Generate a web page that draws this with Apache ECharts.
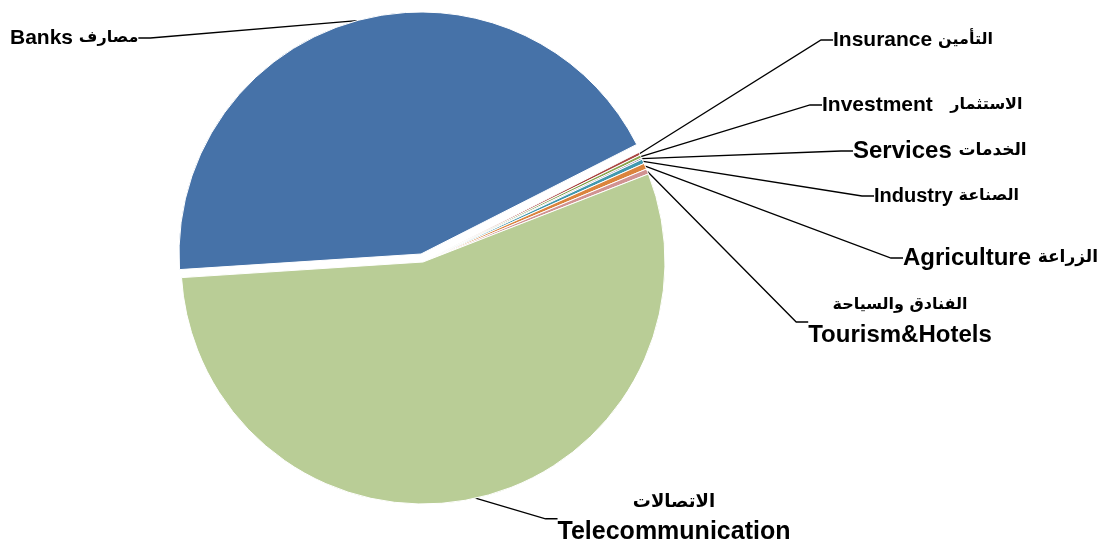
<!DOCTYPE html>
<html>
<head>
<meta charset="utf-8">
<script src="https://cdn.jsdelivr.net/npm/echarts@6/dist/echarts.min.js"></script>
<style>
  html, body { margin: 0; padding: 0; background: #fff; }
  #chart { width: 1108px; height: 545px; }
</style>
</head>
<body>
<div id="chart"></div>
<script>
// sectors, clockwise starting from Banks
const sectors = ['Banks', 'Insurance', 'Investment', 'Services', 'Industry', 'Agriculture', 'Tourism&Hotels', 'Telecommunication'];
const arabicNames = ['مصارف', 'التأمين', 'الاستثمار', 'الخدمات', 'الصناعة', 'الزراعة', 'الفنادق والسياحة', 'الاتصالات'];
const shares = [43.55, 0.2, 0.2, 0.1, 0.3, 0.4, 0.35, 54.9];

const colors = ['#4672a8', '#aa4643', '#89a54e', '#71588f', '#4198af', '#db843d', '#d19392', '#b9cd96'];

// where each label sits (left edge / centre of the text, vertical middle)
const labelPos = [
  { x: 10, y: 38, align: 'left' },
  { x: 833, y: 40, align: 'left' },
  { x: 822, y: 105, align: 'left' },
  { x: 853, y: 151, align: 'left' },
  { x: 874, y: 196, align: 'left' },
  { x: 903, y: 258, align: 'left' },
  { x: 900, y: 320, align: 'center' },
  { x: 674, y: 517, align: 'center' },
];
const enSize = [21, 21, 21, 24, 20, 24, 24, 25];
const arSize = [16, 16, 16, 17, 16, 17, 16, 18];

const chart = echarts.init(document.getElementById('chart'));

function labelFor(i) {
  const rich = {
    en: { fontSize: enSize[i], fontWeight: 'bold', fontFamily: 'Liberation Sans, Arial, sans-serif', color: '#000' },
    ar: { fontSize: arSize[i], fontWeight: 'bold', fontFamily: 'DejaVu Sans, sans-serif', color: '#000' },
  };
  let text;
  if (i >= 6) {
    rich.en.lineHeight = 30;
    rich.ar.lineHeight = 30;
    rich.en.align = 'center';
    rich.ar.align = 'center';
    text = '{ar|' + arabicNames[i] + '}\n{en|' + sectors[i] + '}';
  } else {
    const gap = i === 2 ? '   ' : ' ';
    text = '{en|' + sectors[i] + gap + '}{ar|' + arabicNames[i] + '}';
  }
  return { show: true, formatter: text, rich: rich };
}

// Banks is pulled out of the pie, so it gets its own shifted series
function buildData(visible) {
  return sectors.map((name, i) => {
    const on = visible(i);
    return {
      name: name,
      value: shares[i],
      itemStyle: on ? { color: colors[i], borderColor: '#fff', borderWidth: 1 } : { color: 'transparent', borderWidth: 0 },
      label: on ? labelFor(i) : { show: false },
      labelLine: { show: on },
    };
  });
}

const common = {
  type: 'pie',
  radius: 242,
  startAngle: 183.7,
  clockwise: true,
  avoidLabelOverlap: false,
  emphasis: { disabled: true },
  silent: true,
  labelLine: {
    length: 20,
    length2: 12,
    lineStyle: { color: '#000', width: 1.3 },
  },
  labelLayout: (params) => {
    const p = labelPos[params.dataIndex];
    return { x: p.x, y: p.y, align: p.align, verticalAlign: 'middle' };
  },
};

const option = {
  animation: false,
  series: [
    Object.assign({}, common, {
      center: [421, 254],
      data: buildData((i) => i === 0),
    }),
    Object.assign({}, common, {
      center: [423, 262],
      data: buildData((i) => i !== 0),
    }),
  ],
};

chart.setOption(option);
</script>
</body>
</html>
